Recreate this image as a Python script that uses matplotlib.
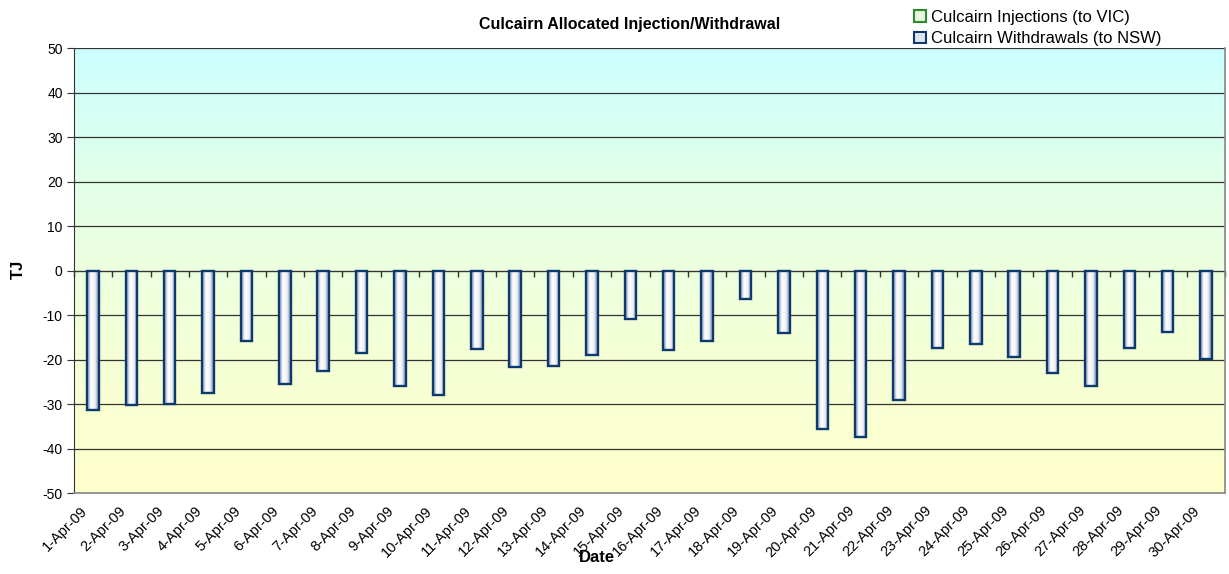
import numpy as np
import matplotlib.pyplot as plt
import matplotlib.transforms as mtransforms
from matplotlib.patches import Patch, Rectangle
from matplotlib.colors import LinearSegmentedColormap

plt.rcParams['font.family'] = ['Liberation Sans', 'DejaVu Sans']

# data
dates = [f'{d}-Apr-09' for d in range(1, 31)]
injections = [0.0] * 30
withdrawals = [-31.3, -30.1, -29.9, -27.5, -15.9, -25.5, -22.5, -18.5, -25.9, -27.9,
               -17.6, -21.6, -21.4, -18.9, -10.9, -17.9, -15.8, -6.4, -14.0, -35.6,
               -37.4, -29.1, -17.4, -16.6, -19.4, -22.9, -25.9, -17.4, -13.9, -19.8]
yticks = list(range(-50, 51, 10))

fig = plt.figure(figsize=(12.29, 5.74), dpi=100)
ax = fig.add_axes([0.060, 0.141, 0.937, 0.775])

x = np.arange(len(dates))
xlim = (-0.5, len(dates) - 0.5)

# background gradient: cyan at top -> green -> pale yellow at bottom
bg = LinearSegmentedColormap.from_list('bg', ['#ffffcc', '#f4ffd6', '#e4ffe6', '#ccffff'])
grad = np.linspace(0, 1, 256).reshape(-1, 1)
ax.imshow(grad, cmap=bg, aspect='auto', origin='lower',
          extent=[xlim[0], xlim[1], -50, 50], zorder=0)

# gridlines
for yv in yticks:
    ax.axhline(yv, color='#333333', lw=0.9, zorder=1)

# bars with a horizontal metallic gradient
bar_w = 0.3
shade = LinearSegmentedColormap.from_list('sh', ['#7d88ad', '#ffffff', '#f0f1f6', '#7a84a8'])
hgrad = np.linspace(0, 1, 64).reshape(1, -1)
bars = ax.bar(x, withdrawals, width=bar_w, facecolor='none', edgecolor='#0d3a6e',
              lw=1.7, zorder=4)
for b in bars:
    bx, by = b.get_x(), b.get_y()
    w, h = b.get_width(), b.get_height()
    im = ax.imshow(hgrad, cmap=shade, aspect='auto',
                   extent=[bx, bx + w, by, by + h], zorder=3)
    im.set_clip_path(b)
ax.bar(x, injections, width=bar_w, color='#66cc66', zorder=3)

ax.set_xlim(*xlim)
ax.set_ylim(-50, 50)

ax.set_yticks(yticks)
ax.set_yticklabels([str(v) for v in yticks], fontsize=10)
ax.tick_params(axis='y', direction='out', length=5, color='#333333', pad=3)
ax.set_xticks(x)
ax.set_xticklabels(dates, rotation=45, ha='right', va='top', rotation_mode='anchor',
                   fontsize=10.5)
ax.tick_params(axis='x', length=0, pad=7.5)
shift = mtransforms.ScaledTranslation(-13 / 100, 0, fig.dpi_scale_trans)
for lab in ax.get_xticklabels():
    lab.set_transform(lab.get_transform() + shift)

# zero axis with ticks at category boundaries
sec = ax.secondary_xaxis(0.5)
sec.set_xticks(np.arange(-0.5, len(dates), 1.0))
sec.set_xticklabels([])
sec.tick_params(direction='in', length=4, width=1, color='#333333')
sec.spines['bottom'].set_color('#555555')
sec.spines['bottom'].set_linewidth(1.2)

ax.spines['top'].set_visible(False)
ax.spines['left'].set_color('#333333')
ax.spines['bottom'].set_color('#888888')
ax.spines['right'].set_color('#888888')
ax.spines['bottom'].set_linewidth(1.2)
ax.spines['right'].set_linewidth(1.2)

fig.text(0.512, 0.958, 'Culcairn Allocated Injection/Withdrawal', ha='center', va='center',
         fontsize=11.5, fontweight='bold')
fig.text(0.015, 0.53, 'TJ', rotation=90, ha='center', va='center',
         fontsize=12, fontweight='bold')
fig.text(0.486, 0.028, 'Date', ha='center', va='center', fontsize=12, fontweight='bold')

# white legend panel over the top right corner
fig.patches.append(Rectangle((885 / 1229, 1 - 47 / 574), 340 / 1229, 47 / 574,
                             transform=fig.transFigure, facecolor='white',
                             edgecolor='none', zorder=5))
handles = [Patch(facecolor='#e8f5e0', edgecolor='#2e8b2e', lw=1.5),
           Patch(facecolor='#dfe3ee', edgecolor='#0d3a6e', lw=1.5)]
leg = fig.legend(handles, ['Culcairn Injections (to VIC)', 'Culcairn Withdrawals (to NSW)'],
                 loc='upper left', bbox_to_anchor=(0.740, 0.992), fontsize=12,
                 frameon=False, handlelength=0.7, handleheight=0.7,
                 handletextpad=0.3, labelspacing=0.4, borderpad=0.3,
                 borderaxespad=0.0)
leg.set_zorder(6)

fig.savefig('out.png', dpi=100)
